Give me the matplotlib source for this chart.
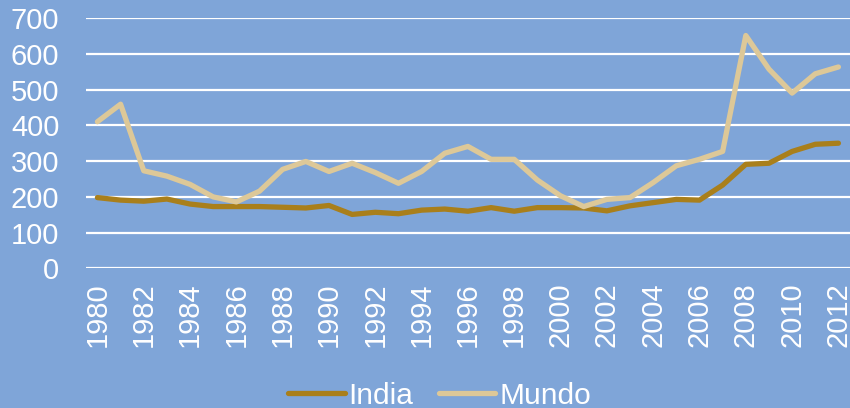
import matplotlib
matplotlib.use("Agg")
import matplotlib.pyplot as plt

years = list(range(1980, 2013))
india = [198, 191, 188, 194, 180, 173, 173, 173, 171, 169, 176, 151, 157, 153, 163,
         166, 160, 170, 160, 170, 170, 169, 161, 175, 184, 193, 191, 233, 291, 294,
         327, 347, 350]
mundo = [410, 459, 273, 258, 235, 200, 186, 216, 277, 299, 271, 294, 268, 238, 271,
         322, 341, 305, 305, 247, 203, 173, 193, 198, 240, 287, 305, 327, 651, 557,
         490, 544, 563]
tick_years = years[::2]

bg = "#7FA5D8"
plt.rcParams["font.family"] = ["Liberation Sans", "DejaVu Sans"]

fig = plt.figure(figsize=(8.5, 4.08), dpi=100, facecolor=bg)
ax = fig.add_axes([0.101, 0.342, 0.899, 0.614], facecolor=bg)

ax.plot(years, india, color="#A97F1B", lw=3.8, label="India", solid_capstyle="round")
ax.plot(years, mundo, color="#DDC898", lw=3.8, label="Mundo", solid_capstyle="round")

ax.set_xlim(1979.5, 2012.5)
ax.set_ylim(0, 700)
ax.set_yticks(range(0, 701, 100))
ax.set_xticks(tick_years)
ax.set_xticklabels([str(y) for y in tick_years], rotation=90)
ax.grid(axis="y", color="white", lw=1.6)
ax.set_axisbelow(True)
for s in ax.spines.values():
    s.set_visible(False)
ax.tick_params(axis="both", length=0, colors="white", labelsize=21)
ax.tick_params(axis="y", pad=19)
ax.tick_params(axis="x", pad=10)

leg = fig.legend(loc="lower center", bbox_to_anchor=(0.517, -0.07), ncol=2, frameon=False,
                 fontsize=21.5, handlelength=1.9, handletextpad=0.12, columnspacing=0.85)
for t in leg.get_texts():
    t.set_color("white")

fig.savefig("out.png", dpi=100, facecolor=bg)
